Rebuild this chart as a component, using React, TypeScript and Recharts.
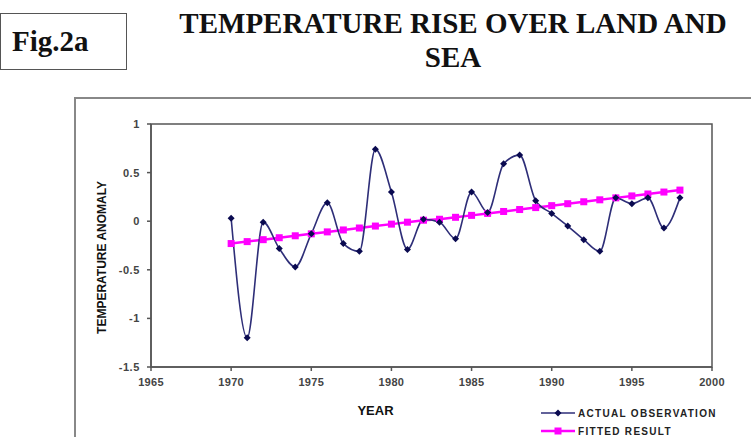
import {
  LineChart,
  Line,
  XAxis,
  YAxis,
  ReferenceArea,
} from "recharts";

const years = [
  1970, 1971, 1972, 1973, 1974, 1975, 1976, 1977, 1978, 1979,
  1980, 1981, 1982, 1983, 1984, 1985, 1986, 1987, 1988, 1989,
  1990, 1991, 1992, 1993, 1994, 1995, 1996, 1997, 1998,
];

const actualObservation = [
  0.03, -1.2, -0.01, -0.28, -0.47, -0.13, 0.19, -0.23, -0.31, 0.74,
  0.3, -0.29, 0.02, -0.01, -0.18, 0.3, 0.09, 0.59, 0.68, 0.21,
  0.08, -0.05, -0.19, -0.31, 0.24, 0.18, 0.24, -0.07, 0.24,
];

const fittedResult = [
  -0.23, -0.21, -0.19, -0.17, -0.15, -0.13, -0.11, -0.09, -0.07, -0.05,
  -0.03, -0.01, 0.01, 0.02, 0.04, 0.06, 0.08, 0.1, 0.12, 0.14,
  0.16, 0.18, 0.2, 0.22, 0.24, 0.26, 0.28, 0.3, 0.32,
];

const xTicks = [1965, 1970, 1975, 1980, 1985, 1990, 1995, 2000];
const yTicks = [-1.5, -1, -0.5, 0, 0.5, 1];

const ACTUAL_COLOR = "#2e2e78";
const ACTUAL_DOT = "#0a0a50";
const FITTED_COLOR = "#ff00ff";
const AXIS_COLOR = "#555555";
const SANS = "'Liberation Sans', Arial, sans-serif";
const SERIF = "'Liberation Serif', 'Times New Roman', serif";

const data = years.map((year, i) => ({
  year,
  actual: actualObservation[i],
  fitted: fittedResult[i],
}));

function Diamond({ cx, cy }: { cx?: number; cy?: number }) {
  if (cx == null || cy == null) return null;
  const r = 3.5;
  return (
    <path
      d={`M${cx},${cy - r} L${cx + r},${cy} L${cx},${cy + r} L${cx - r},${cy} Z`}
      fill={ACTUAL_DOT}
    />
  );
}

function Square({ cx, cy }: { cx?: number; cy?: number }) {
  if (cx == null || cy == null) return null;
  const s = 7;
  return <rect x={cx - s / 2} y={cy - s / 2} width={s} height={s} fill={FITTED_COLOR} />;
}

function LegendBox() {
  const items = [
    { label: "ACTUAL OBSERVATION", color: ACTUAL_COLOR, dot: "diamond" },
    { label: "FITTED RESULT", color: FITTED_COLOR, dot: "square" },
  ];
  return (
    <div style={{ position: "absolute", left: 541, top: 404, fontFamily: SANS }}>
      {items.map((it) => (
        <div key={it.label} style={{ display: "flex", alignItems: "center", height: 18 }}>
          <svg width={34} height={10}>
            <line x1={0} y1={5} x2={34} y2={5} stroke={it.color} strokeWidth={it.dot === "square" ? 2.5 : 1.5} />
            {it.dot === "square" ? (
              <rect x={13.5} y={1.5} width={7} height={7} fill={it.color} />
            ) : (
              <path d="M17,1.5 L20.5,5 L17,8.5 L13.5,5 Z" fill={ACTUAL_DOT} />
            )}
          </svg>
          <span
            style={{
              marginLeft: 3,
              fontSize: 10,
              fontWeight: 700,
              letterSpacing: 1.3,
              color: "#222",
            }}
          >
            {it.label}
          </span>
        </div>
      ))}
    </div>
  );
}

export default function App() {
  return (
    <div
      style={{
        position: "absolute",
        left: 0,
        top: 0,
        width: 751,
        height: 437,
        background: "#fff",
        overflow: "hidden",
      }}
    >
      <div
        style={{
          position: "absolute",
          left: 0,
          top: 13,
          width: 127,
          height: 57,
          border: "1.5px solid #555",
          boxSizing: "border-box",
          fontFamily: SERIF,
          fontWeight: 700,
          fontSize: 29,
          display: "flex",
          alignItems: "center",
          paddingLeft: 11,
          color: "#111",
        }}
      >
        Fig.2a
      </div>
      <div
        style={{
          position: "absolute",
          left: 160,
          width: 586,
          top: 6,
          textAlign: "center",
          fontFamily: SERIF,
          fontWeight: 700,
          fontSize: 29,
          lineHeight: "34px",
          color: "#111",
        }}
      >
        TEMPERATURE RISE OVER LAND AND
        <br />
        SEA
      </div>
      <div
        style={{
          position: "absolute",
          left: 74,
          top: 97,
          width: 700,
          height: 360,
          borderLeft: "2px solid #888",
          borderTop: "2px solid #888",
        }}
      />
      <div style={{ position: "absolute", left: 0, top: 0 }}>
        <LineChart
          width={751}
          height={437}
          data={data}
          margin={{ top: 124, right: 39, bottom: 40, left: 91 }}
        >
          <ReferenceArea
            x1={1965}
            x2={2000}
            y1={-1.5}
            y2={1}
            fill="none"
            stroke={AXIS_COLOR}
            strokeWidth={1.5}
          />
          <XAxis
            dataKey="year"
            type="number"
            domain={[1965, 2000]}
            ticks={xTicks}
            height={30}
            interval={0}
            allowDataOverflow
            stroke={AXIS_COLOR}
            strokeWidth={1.5}
            tickSize={4}
            tickMargin={7}
            tick={{ fontSize: 11, fontWeight: 700, fill: "#444", fontFamily: SANS, letterSpacing: 0.3 }}
            label={(props: any) => {
              const vb = props.viewBox || {};
              const cx = vb.x + vb.width / 2 - 56;
              return (
                <text
                  x={cx}
                  y={415}
                  textAnchor="middle"
                  fontFamily={SANS}
                  fontWeight={700}
                  fontSize={13}
                  fill="#111"
                >
                  YEAR
                </text>
              );
            }}
          />
          <YAxis
            type="number"
            domain={[-1.5, 1]}
            ticks={yTicks}
            width={60}
            interval={0}
            allowDataOverflow
            stroke={AXIS_COLOR}
            strokeWidth={1.5}
            tickSize={4}
            tickMargin={7}
            tick={{ fontSize: 11, fontWeight: 700, fill: "#444", fontFamily: SANS, letterSpacing: 0.6 }}
            label={(props: any) => {
              const vb = props.viewBox || {};
              const x = vb.x + 11;
              const y = vb.y + vb.height / 2 + 12;
              return (
                <text
                  x={x}
                  y={y}
                  transform={`rotate(-90 ${x} ${y})`}
                  textAnchor="middle"
                  dominantBaseline="central"
                  fontFamily={SANS}
                  fontWeight={700}
                  fontSize={12}
                  fill="#111"
                >
                  TEMPERATURE ANOMALY
                </text>
              );
            }}
          />
          <Line
            dataKey="fitted"
            name="FITTED RESULT"
            type="linear"
            stroke={FITTED_COLOR}
            strokeWidth={2.5}
            dot={<Square />}
            activeDot={false}
            isAnimationActive={false}
          />
          <Line
            dataKey="actual"
            name="ACTUAL OBSERVATION"
            type="monotone"
            stroke={ACTUAL_COLOR}
            strokeWidth={1.6}
            dot={<Diamond />}
            activeDot={false}
            isAnimationActive={false}
          />
        </LineChart>
      </div>
      <LegendBox />
    </div>
  );
}
